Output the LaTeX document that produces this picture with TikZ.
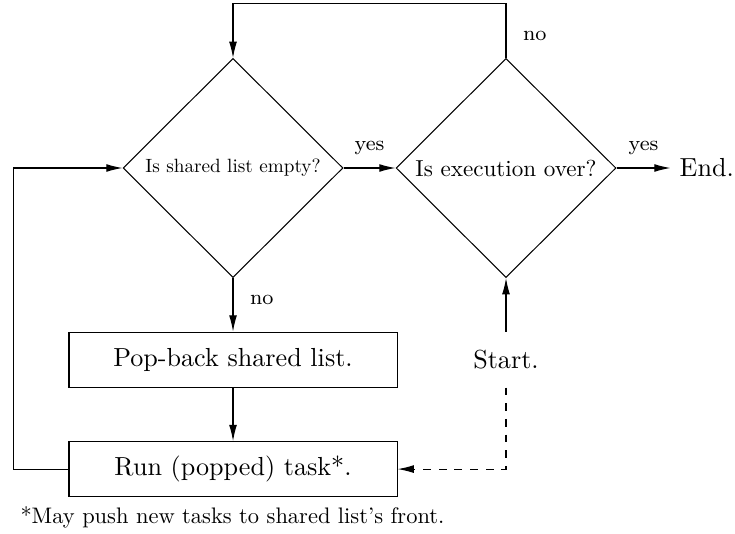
\documentclass[tikz,border=0pt]{standalone}
\usepackage{tikz}
\usetikzlibrary{arrows.meta,positioning,shapes.geometric}

\begin{document}
\begin{tikzpicture}[>={Latex[length=6.2pt,width=3pt]},
        test/.style={draw, diamond, aspect=1, inner sep=0pt, minimum width=2.96cm, minimum height=2.95cm},
        stepbox/.style={draw, rectangle, minimum width=4.415cm, minimum height=0.74cm},
        plain/.style={minimum height=0.74cm},
        lbl/.style={font=\footnotesize}]
        \useasboundingbox (0,0) rectangle (9.892,7.174);

        % Decisions
        \node[test] (empty) at (3.136,4.913) {\scalebox{0.735}{Is shared list empty?}};
        \node[test] (over) at (6.810,4.913) {\scalebox{0.885}{Is execution over?}};
        \node[right=0.727cm of over] (end) {End.};

        % Steps
        \node[stepbox] (pop) at (3.136,2.335) {Pop-back shared list.};
        \node[stepbox] (run) at (3.136,0.861) {Run (popped) task*.};
        \node[plain] (start) at (6.810,2.335) {Start.};
        \node[anchor=west] (note) at (0.152,0.215) {\scalebox{0.86}{*May push new tasks to shared list's front.}};

        % Connectors
        \draw[->] (empty) -- node[lbl, above=1.5pt] {yes} (over);
        \draw[->] (over) -- node[lbl, above=1.5pt] {yes} (end);
        \draw[->] (empty) -- node[lbl, right=3pt, pos=0.4] {no} (pop);
        \draw[->] (pop) -- (run);
        \draw[->] (over.north) -- node[lbl, right=3pt, pos=0.4] {no} ++(0,0.732) -| (empty.north);
        \draw[->] (run.west) -- ++(-0.74,0) |- (empty.west);
        \draw[->] (start) -- (over);
        \draw[->, dashed] (start.south) |- (run.east);
    \end{tikzpicture}
\end{document}
